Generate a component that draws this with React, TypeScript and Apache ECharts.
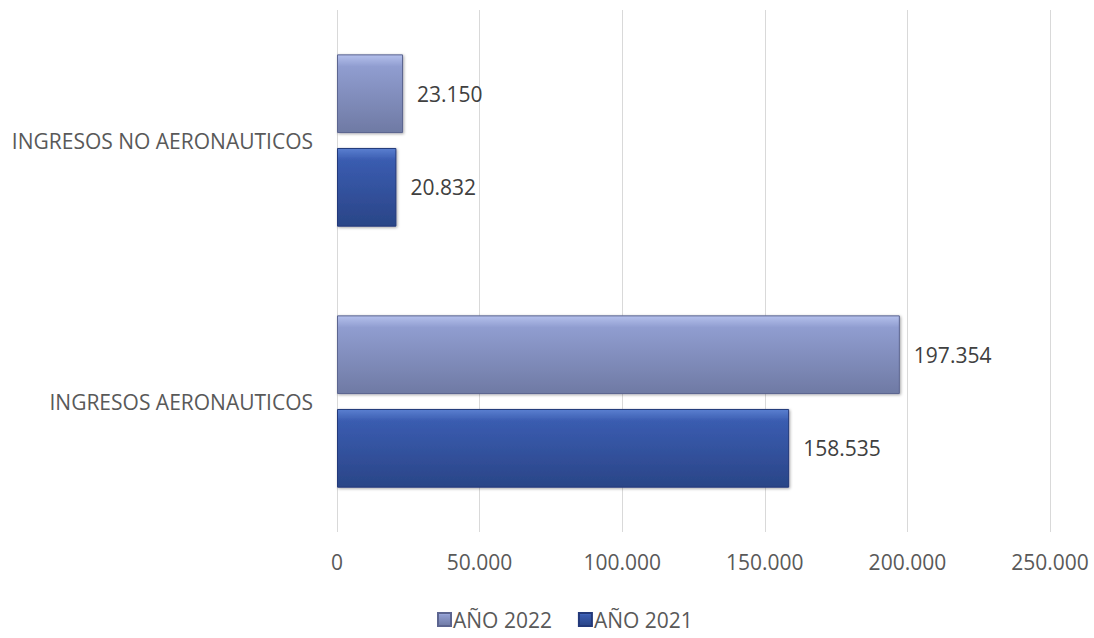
import React, { useEffect, useRef } from "react";
import * as echarts from "echarts";

const categories = ["INGRESOS AERONAUTICOS", "INGRESOS NO AERONAUTICOS"];
const values2021 = [158535, 20832];
const values2022 = [197354, 23150];
const seriesNames = ["AÑO 2022", "AÑO 2021"];

const fmt = (v: number) => String(Math.round(v)).replace(/\B(?=(\d{3})+(?!\d))/g, ".");

const FONT = "'Open Sans', 'Noto Sans', sans-serif";
const FS = 21;

export default function App() {
  const ref = useRef<HTMLDivElement>(null);
  useEffect(() => {
    if (!ref.current) return;
    const chart = echarts.init(ref.current, null, { renderer: "svg" });
    const grad = (a: string, m: string, b: string) =>
      new echarts.graphic.LinearGradient(0, 0, 0, 1, [
        { offset: 0, color: a },
        { offset: 0.15, color: m },
        { offset: 1, color: b },
      ]);
    const label = {
      show: true,
      position: "right",
      distance: 14,
      color: "#404040",
      fontSize: FS,
      fontFamily: FONT,
      formatter: (p: any) => fmt(p.value),
    };
    chart.setOption({
      animation: false,
      textStyle: { fontFamily: FONT },
      grid: { left: 337, right: 44, top: 10, bottom: 106, containLabel: false },
      legend: {
        data: seriesNames,
        top: 604,
        left: 432,
        itemWidth: 13,
        itemHeight: 13,
        itemGap: 26,
        icon: "rect",
        textStyle: { color: "#595959", fontSize: FS, fontFamily: FONT, padding: [0, 0, 0, -3] },
      },
      xAxis: {
        type: "value",
        min: 0,
        max: 250000,
        interval: 50000,
        axisLine: { show: false },
        axisTick: { show: false },
        splitLine: { show: true, lineStyle: { color: "#d9d9d9", width: 1 } },
        axisLabel: {
          color: "#595959",
          fontSize: FS,
          margin: 19,
          fontFamily: FONT,
          formatter: (v: number) => fmt(v),
        },
      },
      yAxis: {
        type: "category",
        data: categories,
        axisLine: { show: false },
        axisTick: { show: false },
        axisLabel: { color: "#595959", fontSize: FS, margin: 24, fontFamily: FONT },
      },
      series: [
        {
          name: "AÑO 2022",
          type: "bar",
          data: values2022,
          barCategoryGap: "34%",
          barGap: "19%",
          itemStyle: {
            color: grad("#b4c0ec", "#909dd0", "#6f7aa4"),
            borderColor: "#5c6590",
            borderWidth: 1,
            shadowColor: "rgba(0,0,0,0.35)",
            shadowBlur: 3,
            shadowOffsetX: 1,
            shadowOffsetY: 1,
          },
          label,
        },
        {
          name: "AÑO 2021",
          type: "bar",
          data: values2021,
          barCategoryGap: "34%",
          barGap: "19%",
          itemStyle: {
            color: grad("#5a7fd0", "#3a5cb0", "#2a4587"),
            borderColor: "#23397a",
            borderWidth: 1,
            shadowColor: "rgba(0,0,0,0.35)",
            shadowBlur: 3,
            shadowOffsetX: 1,
            shadowOffsetY: 1,
          },
          label,
        },
      ],
    });
    return () => chart.dispose();
  }, []);
  return <div ref={ref} style={{ width: 1094, height: 638, position: "absolute", left: 0, top: 0 }} />;
}
